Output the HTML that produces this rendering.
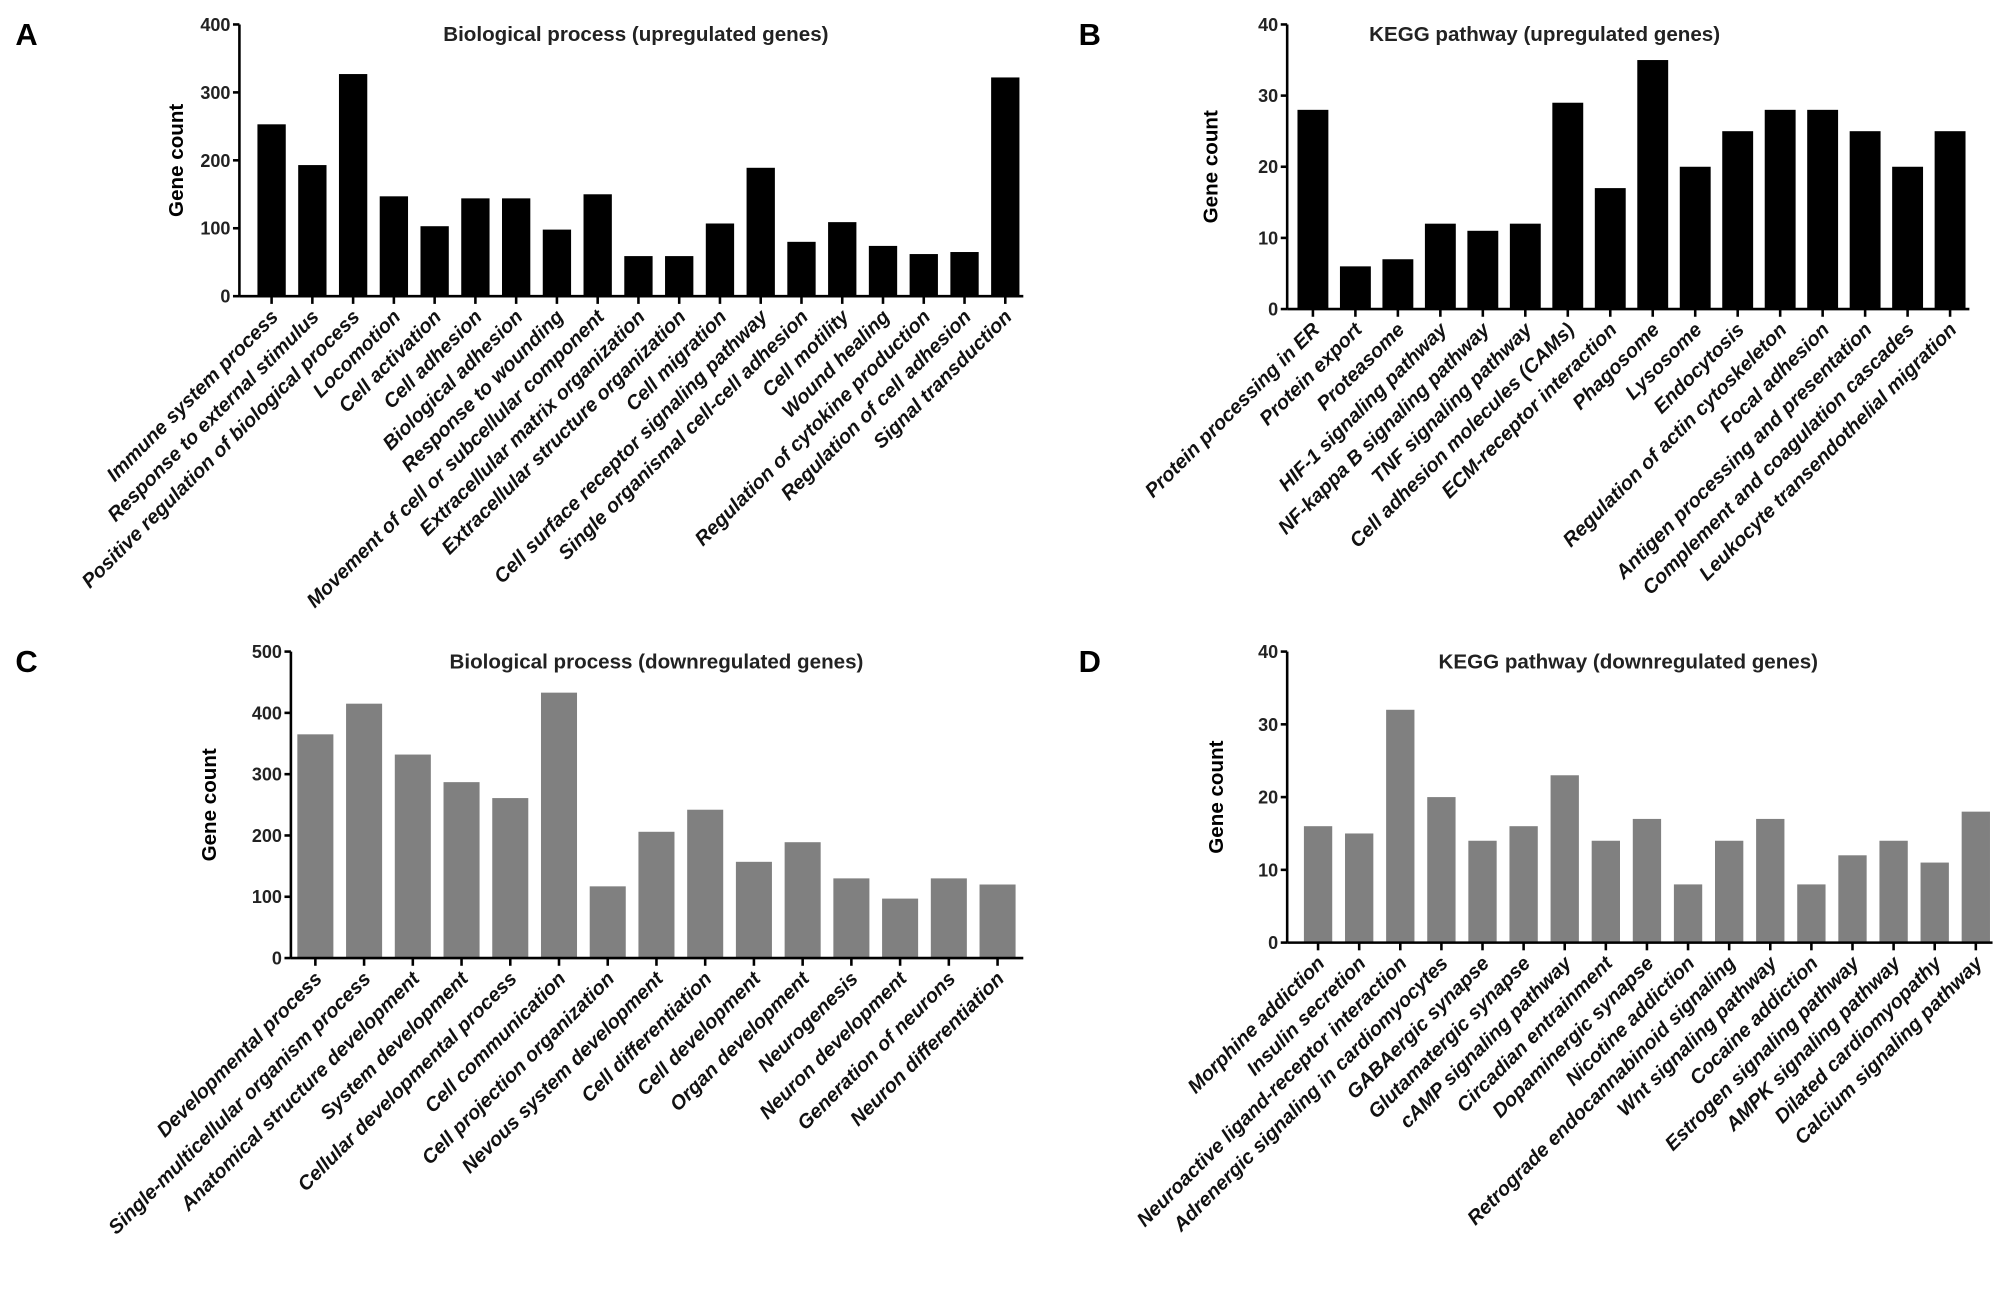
<!DOCTYPE html>
<html><head><meta charset="utf-8"><style>
html,body{margin:0;padding:0;background:#fff;}
svg{display:block;font-family:"Liberation Sans",Arial,sans-serif;}
</style></head><body>
<svg id="fig" width="2008" height="1289" viewBox="0 0 1560 1001" preserveAspectRatio="none" xmlns="http://www.w3.org/2000/svg"></svg>
<script>
const catsA=["Immune system process","Response to external stimulus","Positive regulation of biological process","Locomotion","Cell activation","Cell adhesion","Biological adhesion","Response to wounding","Movement of cell or subcellular component","Extracellular matrix organization","Extracellular structure organization","Cell migration","Cell surface receptor signaling pathway","Single organismal cell-cell adhesion","Cell motility","Wound healing","Regulation of cytokine production","Regulation of cell adhesion","Signal transduction"];
const valsA=[253,193,327,147,103,144,144,98,150,59,59,107,189,80,109,74,62,65,322];
const ticksA=[0,100,200,300,400];
const catsB=["Protein processing in ER","Protein export","Proteasome","HIF-1 signaling pathway","NF-kappa B signaling pathway","TNF signaling pathway","Cell adhesion molecules (CAMs)","ECM-receptor interaction","Phagosome","Lysosome","Endocytosis","Regulation of actin cytoskeleton","Focal adhesion","Antigen processing and presentation","Complement and coagulation cascades","Leukocyte transendothelial migration"];
const valsB=[28,6,7,12,11,12,29,17,35,20,25,28,28,25,20,25];
const ticksB=[0,10,20,30,40];
const catsC=["Developmental process","Single-multicellular organism process","Anatomical structure development","System development","Cellular developmental process","Cell communication","Cell projection organization","Nevous system development","Cell differentiation","Cell development","Organ development","Neurogenesis","Neuron development","Generation of neurons","Neuron differentiation"];
const valsC=[365,415,332,287,261,433,117,206,242,157,189,130,97,130,120];
const ticksC=[0,100,200,300,400,500];
const catsD=["Morphine addiction","Insulin secretion","Neuroactive ligand-receptor interaction","Adrenergic signaling in cardiomyocytes","GABAergic synapse","Glutamatergic synapse","cAMP signaling pathway","Circadian entrainment","Dopaminergic synapse","Nicotine addiction","Retrograde endocannabinoid signaling","Wnt signaling pathway","Cocaine addiction","Estrogen signaling pathway","AMPK signaling pathway","Dilated cardiomyopathy","Calcium signaling pathway"];
const valsD=[16,15,32,20,14,16,23,14,17,8,14,17,8,12,14,11,18];
const ticksD=[0,10,20,30,40];

const NS="http://www.w3.org/2000/svg";
const svg=document.getElementById('fig');
function mk(tag,attrs,parent,text){const e=document.createElementNS(NS,tag);for(const k in attrs)e.setAttribute(k,attrs[k]);if(text!==undefined)e.textContent=text;parent.appendChild(e);return e;}

function panel(id,letter,lx,title,tx,cats,vals,ticks,ax,y0,yTop,x0c,x1c,bw,axRight,color,gcX){
  const g=mk('g',{},svg);
  
  
  const maxV=ticks[ticks.length-1];
  const ys=v=>y0-(v/maxV)*(y0-yTop);
  const n=cats.length;
  const xs=i=>x0c+i*(x1c-x0c)/(n-1);
  const L=mk('text',{x:lx,y:yTop+16,'font-size':24,'font-weight':'bold'},g,letter);
  
  
  const T=mk('text',{x:tx,y:yTop+13,'font-size':16,'font-weight':'bold','text-anchor':'middle',fill:'#222'},g,title);
  
  
  const yt=mk('text',{x:gcX,y:(y0+yTop)/2,'font-size':16,'font-weight':'bold','text-anchor':'middle',transform:`rotate(-90 ${gcX} ${(y0+yTop)/2})`},g,'Gene count');
  
  
  vals.forEach((v,i)=>{
    const r=mk('rect',{x:xs(i)-bw/2,y:ys(v),width:bw,height:y0-ys(v),fill:color},g);
    
    
  });
  mk('line',{x1:ax,y1:y0,x2:ax,y2:yTop,stroke:'#000','stroke-width':2},g);
  mk('line',{x1:ax,y1:y0,x2:axRight,y2:y0,stroke:'#000','stroke-width':2},g);
  ticks.forEach(t=>{
    mk('line',{x1:ax-5,y1:ys(t),x2:ax,y2:ys(t),stroke:'#000','stroke-width':2},g);
    const tl=mk('text',{x:ax-7,y:ys(t)+5,'font-size':14,'font-weight':'bold','text-anchor':'end',fill:'#222'},g,String(t));
    
    
  });
  cats.forEach((c,i)=>{
    const x=xs(i);
    mk('line',{x1:x,y1:y0,x2:x,y2:y0+6,stroke:'#000','stroke-width':2},g);
    const lx2=x+6,ly=y0+17;
    const t=mk('text',{x:lx2,y:ly,'font-size':15.5,'font-weight':'bold','font-style':'italic','text-anchor':'end',fill:'#111',transform:`rotate(-45 ${lx2} ${ly})`},g,c);
    
    
  });
}
panel('a','A',12,'Biological process (upregulated genes)',494,catsA,valsA,ticksA,186,230,19,211,781,22,795,'#000',142);
panel('b','B',838,'KEGG pathway (upregulated genes)',1200,catsB,valsB,ticksB,1000,240,19,1020,1515,24,1530,'#000',946);
panel('c','C',12,'Biological process (downregulated genes)',510,catsC,valsC,ticksC,226,744,506,245,775,28,795,'#808080',168);
panel('d','D',838,'KEGG pathway (downregulated genes)',1265,catsD,valsD,ticksD,1000,732,506,1024,1535,22,1548,'#808080',950);
</script>
</body></html>
